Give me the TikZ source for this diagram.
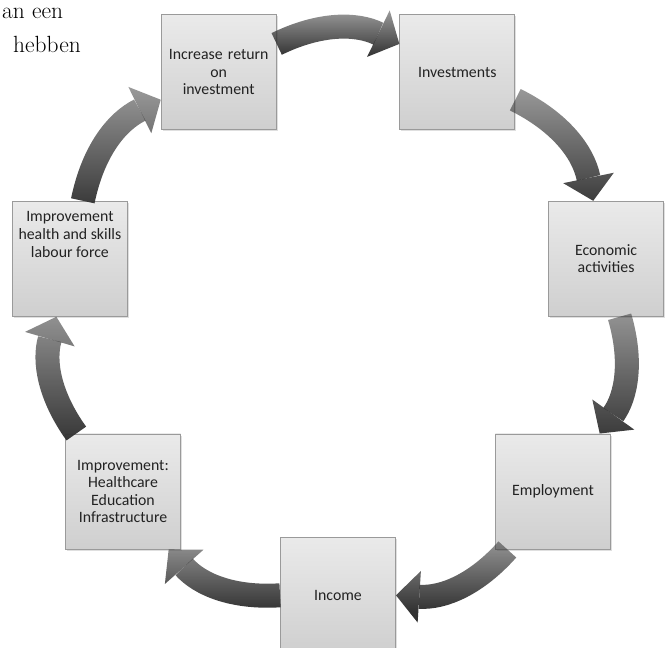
\documentclass[tikz,border=0pt]{standalone}
\usepackage{fontspec}
\newfontfamily\boxfont{Carlito}
\usetikzlibrary{arrows.meta,positioning,shadows,fadings}
\definecolor{boxedge}{HTML}{9A9A9A}
\definecolor{boxtop}{HTML}{EAEAEA}
\definecolor{boxbottom}{HTML}{CFCFCF}
\definecolor{arrowdark}{HTML}{333333}
\definecolor{labelgray}{HTML}{222222}
\tikzfading[name=arrowfade, top color=transparent!50, bottom color=transparent!0]
\tikzset{
  cyclebox/.style={draw=boxedge, line width=0.8pt, top color=boxtop, bottom color=boxbottom,
    minimum width=3.45cm, minimum height=3.45cm, text width=3.3cm, align=center, inner sep=2pt,
    font=\boxfont\fontsize{13.5}{15}\selectfont, text=labelgray,
    drop shadow={opacity=0.25, shadow xshift=0.5mm, shadow yshift=-0.5mm}},
  cycletext/.style={align=center, inner sep=2pt, font=\boxfont\fontsize{13.5}{15}\selectfont, text=labelgray},
  cyclearrow/.style={draw=arrowdark, line width=0.72cm,
    -{Triangle[width=1.55cm,length=0.7cm,line width=0pt 0 0]},
    path fading=arrowfade, bend left=26},
  pagetext/.style={anchor=base west, inner sep=0pt, font=\fontsize{20}{24}\selectfont}
}
\begin{document}
\begin{tikzpicture}[x=0.03cm,y=0.03cm]
  \useasboundingbox (-338,-328) rectangle (329,320);

  % page text cut off at the left
  \node[pagetext] (line1) at (-336,301) {an een};
  \node[pagetext] (line2) at (-325,267) {hebben};

  % seven steps on a circle
  \node[cyclebox] (ret) at (-119.3,247.8) {Increase return\\on\\investment};
  \node[cyclebox] (inv) at (119.3,247.8) {Investments};
  \node[cyclebox] (eco) at (268.1,61.2) {Economic\\activities};
  \node[cyclebox] (emp) at (215.0,-171.5) {Employment};
  \node[cyclebox] (inc) at (0,-275) {Income};
  \node[cyclebox] (infra) at (-215.0,-171.5) {Improvement:\\Healthcare\\Education\\Infrastructure};
  \node[cyclebox] (health) at (-268.1,61.2) {};
  \node[cycletext, below=0.25cm of health.north] (healthtext) {Improvement\\health and skills\\labour force};

  \draw[cyclearrow] (ret) to (inv);
  \draw[cyclearrow] (inv) to (eco);
  \draw[cyclearrow] (eco) to (emp);
  \draw[cyclearrow] (emp) to (inc);
  \draw[cyclearrow] (inc) to (infra);
  \draw[cyclearrow] (infra) to (health);
  \draw[cyclearrow] (health) to (ret);
\end{tikzpicture}
\end{document}
